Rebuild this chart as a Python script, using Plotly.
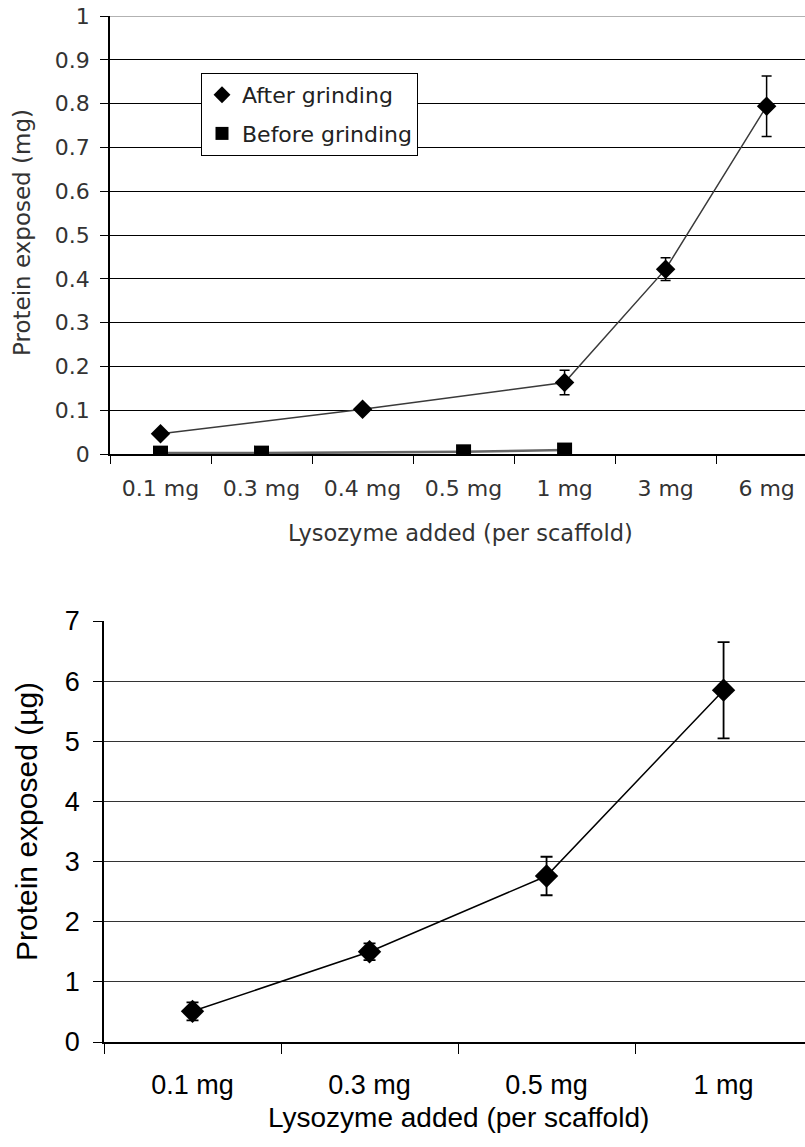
import plotly.graph_objects as go

# ---- Top chart data ----
top_categories = ["0.1 mg", "0.3 mg", "0.4 mg", "0.5 mg", "1 mg", "3 mg", "6 mg"]
after_values = [0.046, None, 0.102, None, 0.163, 0.422, 0.794]
after_errors = [0.004, 0, 0.004, 0, 0.028, 0.026, 0.069]
before_values = [0.002, 0.002, None, 0.005, 0.009, None, None]
top_yticks = [0, 0.1, 0.2, 0.3, 0.4, 0.5, 0.6, 0.7, 0.8, 0.9, 1]
top_yticklabels = ["0", "0.1", "0.2", "0.3", "0.4", "0.5", "0.6", "0.7", "0.8", "0.9", "1"]

# ---- Bottom chart data ----
bottom_categories = ["0.1 mg", "0.3 mg", "0.5 mg", "1 mg"]
bottom_values = [0.51, 1.50, 2.76, 5.85]
bottom_errors = [0.15, 0.14, 0.32, 0.80]
bottom_yticks = [0, 1, 2, 3, 4, 5, 6, 7]

W, H = 805, 1147
TOPFONT = "DejaVu Sans"
BOTFONT = "Liberation Sans, Arial"

fig = go.Figure()

# top: after grinding
fig.add_trace(go.Scatter(
    x=top_categories, y=after_values, mode="lines+markers", connectgaps=True,
    line=dict(color="#3a3a3a", width=1.5),
    marker=dict(symbol="diamond", size=15, color="black"),
    error_y=dict(type="data", array=after_errors, visible=True, color="black", thickness=1.5, width=5),
    showlegend=False, xaxis="x", yaxis="y"))
# top: before grinding
fig.add_trace(go.Scatter(
    x=top_categories, y=before_values, mode="lines+markers", connectgaps=True,
    line=dict(color="#666666", width=2.5),
    marker=dict(symbol="square", size=15, color="black"),
    showlegend=False, xaxis="x", yaxis="y"))
# legend entries (marker only)
fig.add_trace(go.Scatter(x=[None], y=[None], mode="markers", name="After grinding",
                         legendgroup="a",
                         marker=dict(symbol="diamond", size=13, color="black"), xaxis="x", yaxis="y"))
fig.add_trace(go.Scatter(x=[None], y=[None], mode="markers", name="Before grinding",
                         legendgroup="b",
                         marker=dict(symbol="square", size=13, color="black"), xaxis="x", yaxis="y"))

# bottom
fig.add_trace(go.Scatter(
    x=bottom_categories, y=bottom_values, mode="lines+markers",
    line=dict(color="black", width=1.5),
    marker=dict(symbol="diamond", size=18, color="black"),
    error_y=dict(type="data", array=bottom_errors, visible=True, color="black", thickness=1.8, width=6),
    showlegend=False, xaxis="x2", yaxis="y2"))

top_x0, top_y0, top_y1 = 110 / W, 1 - 454 / H, 1 - 16 / H
bot_x0, bot_y0, bot_y1 = 104 / W, 1 - 1042 / H, 1 - 621 / H

fig.update_layout(
    width=W, height=H, margin=dict(l=0, r=0, t=0, b=0, autoexpand=False),
    paper_bgcolor="white", plot_bgcolor="white",
    xaxis=dict(domain=[top_x0, 1], anchor="y", type="category", automargin=False,
               categoryorder="array", categoryarray=top_categories,
               range=[-0.5, 6.38], showgrid=False, tickson="boundaries",
               ticks="outside", ticklen=8, tickcolor="black", tickwidth=1,
               showline=True, linecolor="black", linewidth=1.5,
               tickfont=dict(family=TOPFONT, size=22, color="#333333"),
               ticklabelstandoff=14, zeroline=False),
    yaxis=dict(domain=[top_y0, top_y1], anchor="x", range=[0, 1], automargin=False,
               tickmode="array", tickvals=top_yticks, ticktext=top_yticklabels,
               showgrid=True, gridcolor="black", gridwidth=1,
               ticks="outside", ticklen=8, tickcolor="black",
               showline=True, linecolor="black", linewidth=1.5,
               tickfont=dict(family=TOPFONT, size=22, color="#333333"),
               ticklabelstandoff=6, zeroline=False),
    xaxis2=dict(domain=[bot_x0, 1], anchor="y2", type="category", automargin=False,
                categoryorder="array", categoryarray=bottom_categories,
                range=[-0.5, 3.46], showgrid=False, tickson="boundaries",
                ticks="outside", ticklen=10, tickcolor="black", tickwidth=1,
                showline=True, linecolor="black", linewidth=1.5,
                tickfont=dict(family=BOTFONT, size=27, color="black"),
                ticklabelstandoff=18, zeroline=False),
    yaxis2=dict(domain=[bot_y0, bot_y1], anchor="x2", range=[0, 7], automargin=False,
                tickmode="array", tickvals=bottom_yticks,
                showgrid=True, gridcolor="#333333", gridwidth=1,
                ticks="outside", ticklen=9, tickcolor="black",
                showline=True, linecolor="black", linewidth=1.5,
                tickfont=dict(family=BOTFONT, size=27, color="black"),
                ticklabelstandoff=8, zeroline=False),
    legend=dict(x=201 / W, y=1 - 73 / H, xanchor="left", yanchor="top",
                bgcolor="white", bordercolor="black", borderwidth=1,
                font=dict(family=TOPFONT, size=22, color="#222222"),
                itemwidth=30, tracegroupgap=7, traceorder="grouped"),
    shapes=[
        dict(type="line", xref="x domain", yref="y", x0=0, x1=1, y0=1, y1=1,
             line=dict(color="#999999", width=1.5), layer="above"),
    ],
    annotations=[
        dict(text="Protein exposed (mg)", x=22 / W, y=1 - 233 / H, xref="paper", yref="paper",
             textangle=-90, showarrow=False, xanchor="center", yanchor="middle",
             font=dict(family=TOPFONT, size=23, color="#333333")),
        dict(text="Lysozyme added (per scaffold)", x=460 / W, y=1 - 533 / H, xref="paper", yref="paper",
             showarrow=False, xanchor="center", yanchor="middle",
             font=dict(family=TOPFONT, size=22.5, color="#333333")),
        dict(text="Protein exposed (µg)", x=26 / W, y=1 - 822 / H, xref="paper", yref="paper",
             textangle=-90, showarrow=False, xanchor="center", yanchor="middle",
             font=dict(family=BOTFONT, size=30, color="black")),
        dict(text="Lysozyme added (per scaffold)", x=458 / W, y=1 - 1117 / H, xref="paper", yref="paper",
             showarrow=False, xanchor="center", yanchor="middle",
             font=dict(family=BOTFONT, size=28, color="black")),
    ],
)

fig.write_html("out.html")
